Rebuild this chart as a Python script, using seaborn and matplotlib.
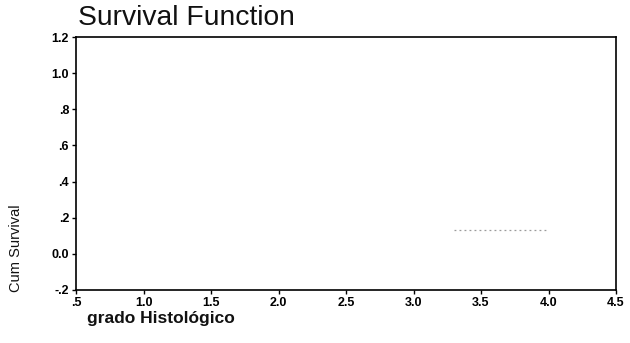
import matplotlib
matplotlib.use("Agg")
import matplotlib.pyplot as plt
import seaborn as sns
import pandas as pd

# data
grade = [3.3, 4.0]
cum_survival = [0.13, 0.13]
x_ticks = [0.5, 1.0, 1.5, 2.0, 2.5, 3.0, 3.5, 4.0, 4.5]
x_tick_labels = [".5", "1.0", "1.5", "2.0", "2.5", "3.0", "3.5", "4.0", "4.5"]
y_ticks = [-0.2, 0.0, 0.2, 0.4, 0.6, 0.8, 1.0, 1.2]
y_tick_labels = ["-.2", "0.0", ".2", ".4", ".6", ".8", "1.0", "1.2"]

sns.set_theme(style="white")
plt.rcParams['font.family'] = ['Liberation Sans', 'DejaVu Sans']

fig = plt.figure(figsize=(6.3, 3.43), dpi=100)
ax = fig.add_axes([76/630, 1-290/343, 540/630, 253/343])

df = pd.DataFrame({"grade": grade, "surv": cum_survival})
sns.lineplot(data=df, x="grade", y="surv", ax=ax, color="#9a9a9a",
             linestyle=(0, (1.5, 2.5)), linewidth=0.9)

ax.set_xlim(0.5, 4.5)
ax.set_ylim(-0.2, 1.2)
ax.set_xticks(x_ticks)
ax.set_xticklabels(x_tick_labels, fontsize=9, fontweight="bold")
ax.set_yticks(y_ticks)
ax.set_yticklabels(y_tick_labels, fontsize=9, fontweight="bold")
ax.tick_params(axis="both", direction="out", length=3, width=1, color="black",
               pad=2, left=True, bottom=True, labelcolor="black")
for s in ax.spines.values():
    s.set_visible(True)
    s.set_color("black")
    s.set_linewidth(1.2)
ax.set_xlabel("")
ax.set_ylabel("")

fig.text(78/630, 1-18/343, "Survival Function", fontsize=20.3, ha="left", va="center",
         color="#111111")
fig.text(87/630, 1-319/343, "grado Histológico", fontsize=12.5, fontweight="bold",
         ha="left", va="center", color="#111111")
fig.text(16/630, 1-248/343, "Cum Survival", fontsize=10.5, rotation=90,
         ha="center", va="center", color="#111111",
         family=['Liberation Sans Narrow', 'Liberation Sans', 'DejaVu Sans'])

fig.savefig("out.png", dpi=100, facecolor="white")
